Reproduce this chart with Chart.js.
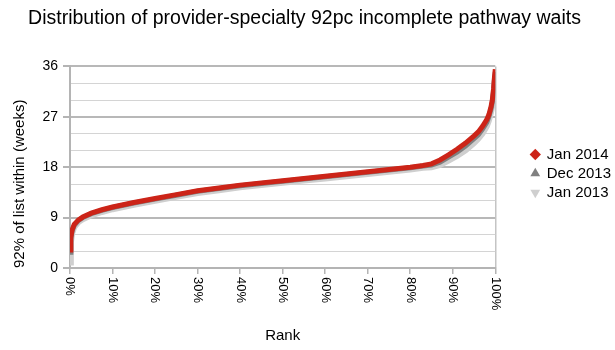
<!DOCTYPE html>
<html><head><meta charset="utf-8">
<script src="https://cdn.jsdelivr.net/npm/chart.js@4/dist/chart.umd.min.js"></script>
<style>html,body{margin:0;padding:0;background:#fff}</style>
</head><body>
<canvas id="c" width="615" height="350" style="display:block;width:615px;height:350px"></canvas>
<script>
// Rank (percent of provider-specialties) at which values are read
const rankPct = [0, 0.2, 0.5, 1, 2, 3, 5, 7.5, 10, 15, 20, 25, 30, 35, 40, 45, 50, 55, 60, 65, 70, 75, 80, 83, 85, 87, 89, 91, 93, 95, 96, 97, 98, 98.5, 99, 99.3, 99.6, 99.8, 100];
// 92nd percentile wait (weeks)
const jan2014 = [3.2, 5.5, 6.8, 7.8, 8.6, 9.1, 9.8, 10.4, 10.9, 11.7, 12.4, 13.1, 13.8, 14.3, 14.8, 15.2, 15.6, 16.0, 16.4, 16.8, 17.2, 17.6, 18.0, 18.3, 18.6, 19.3, 20.2, 21.2, 22.3, 23.6, 24.3, 25.3, 26.5, 27.4, 28.8, 30.0, 32.0, 34.0, 35.5];
const dec2013 = [2.8, 5.2, 6.6, 7.6, 8.5, 9.0, 9.7, 10.3, 10.8, 11.6, 12.3, 13.0, 13.7, 14.2, 14.7, 15.1, 15.5, 15.9, 16.3, 16.7, 17.1, 17.5, 17.9, 18.2, 18.4, 18.9, 19.8, 20.7, 21.8, 23.1, 23.8, 24.8, 26.0, 27.0, 28.4, 29.6, 31.5, 33.5, 35.0];
const jan2013 = [1.0, 4.5, 6.2, 7.3, 8.2, 8.7, 9.4, 10.0, 10.5, 11.3, 12.0, 12.7, 13.4, 13.9, 14.4, 14.8, 15.2, 15.6, 16.0, 16.4, 16.8, 17.2, 17.6, 17.9, 18.0, 18.4, 19.2, 20.0, 21.0, 22.3, 23.1, 24.0, 25.3, 26.3, 27.8, 29.0, 31.0, 33.0, 34.5];
const seriesNames = ['Jan 2014', 'Dec 2013', 'Jan 2013'];
const xTickValues = [0, 10, 20, 30, 40, 50, 60, 70, 80, 90, 100];
const yTickValues = [0, 9, 18, 27, 36];

const FONT = '"Liberation Sans", Arial, Helvetica, sans-serif';
const toPts = arr => arr.map((v, i) => ({x: rankPct[i], y: v}));

const xLabelPlugin = {
  id: 'xLabels',
  afterLayout(chart) {
    // nudge the legend block to the right, away from the plot, and the title slightly right
    const lg = chart.legend;
    if (lg) { lg.left += 32; lg.right += 32; }
    const tb = chart.titleBlock;
    if (tb) { tb.left += 6; tb.right += 6; }
  },
  afterDraw(chart) {
    const sc = chart.scales.x, ctx = chart.ctx;
    ctx.save();
    ctx.font = '13px ' + FONT;
    ctx.fillStyle = '#000';
    ctx.textAlign = 'left';
    ctx.textBaseline = 'middle';
    xTickValues.forEach(v => {
      const px = sc.getPixelForValue(v);
      ctx.save();
      ctx.translate(px, sc.top + 9);
      ctx.rotate(Math.PI / 2);
      ctx.fillText(v + '%', 0, 0);
      ctx.restore();
    });
    ctx.restore();
  }
};

new Chart(document.getElementById('c'), {
  type: 'scatter',
  data: {
    datasets: [
      {label: seriesNames[0], data: toPts(jan2014), showLine: true, borderColor: '#cc2418', backgroundColor: '#cc2418', borderWidth: 5, pointRadius: 0, pointStyle: 'rectRot', order: 1},
      {label: seriesNames[1], data: toPts(dec2013), showLine: true, borderColor: '#808080', backgroundColor: '#808080', borderWidth: 5, pointRadius: 0, pointStyle: 'triangle', order: 2},
      {label: seriesNames[2], data: toPts(jan2013), showLine: true, borderColor: '#cfcfcf', backgroundColor: '#cfcfcf', borderWidth: 6, pointRadius: 0, pointStyle: 'triangle', pointRotation: 180, order: 3}
    ]
  },
  options: {
    responsive: false,
    animation: false,
    layout: {padding: {left: 8, right: 26, top: 0, bottom: 3}},
    plugins: {
      title: {display: true, text: 'Distribution of provider-specialty 92pc incomplete pathway waits', color: '#000', font: {family: FONT, size: 19.5, weight: 'normal'}, padding: {top: 7, bottom: 36}},
      legend: {
        position: 'right',
        labels: {
          usePointStyle: true, boxWidth: 8, boxHeight: 8, padding: 4, color: '#000', font: {family: FONT, size: 15},
          generateLabels: chart => Chart.defaults.plugins.legend.labels.generateLabels(chart).map(l => Object.assign(l, {lineWidth: 0}))
        }
      },
      tooltip: {enabled: false}
    },
    scales: {
      x: {
        type: 'linear', min: 0, max: 100,
        ticks: {stepSize: 10, display: false},
        grid: {color: ctx => ctx.tick && ctx.tick.value === 100 ? '#c4c4c4' : 'transparent', tickColor: '#b4b4b4', tickLength: 6, lineWidth: 1.5},
        border: {color: '#b4b4b4', width: 2},
        title: {display: true, text: 'Rank', color: '#000', font: {family: FONT, size: 15}, padding: {top: 0, bottom: 2}},
        afterFit: s => { s.height = 79; }
      },
      y: {
        min: 0, max: 36,
        ticks: {stepSize: 3, maxTicksLimit: 20, autoSkip: false, color: '#000', font: {family: FONT, size: 14}, padding: 5,
          callback: v => yTickValues.includes(v) ? String(v) : ''},
        grid: {
          color: ctx => ctx.tick && ctx.tick.value % 9 === 0 ? '#b8b8b8' : '#d4d4d4',
          lineWidth: ctx => ctx.tick && ctx.tick.value % 9 === 0 ? 2 : 1,
          tickColor: ctx => ctx.tick && ctx.tick.value % 9 === 0 ? '#b4b4b4' : 'transparent',
          tickLength: 7
        },
        border: {color: '#b4b4b4', width: 2},
        title: {display: true, text: '92% of list within (weeks)', align: 'start', color: '#000', font: {family: FONT, size: 15}, padding: {top: 3, bottom: 4}},
        afterFit: s => { s.width = 62; }
      }
    }
  },
  plugins: [xLabelPlugin]
});
</script>
</body></html>
